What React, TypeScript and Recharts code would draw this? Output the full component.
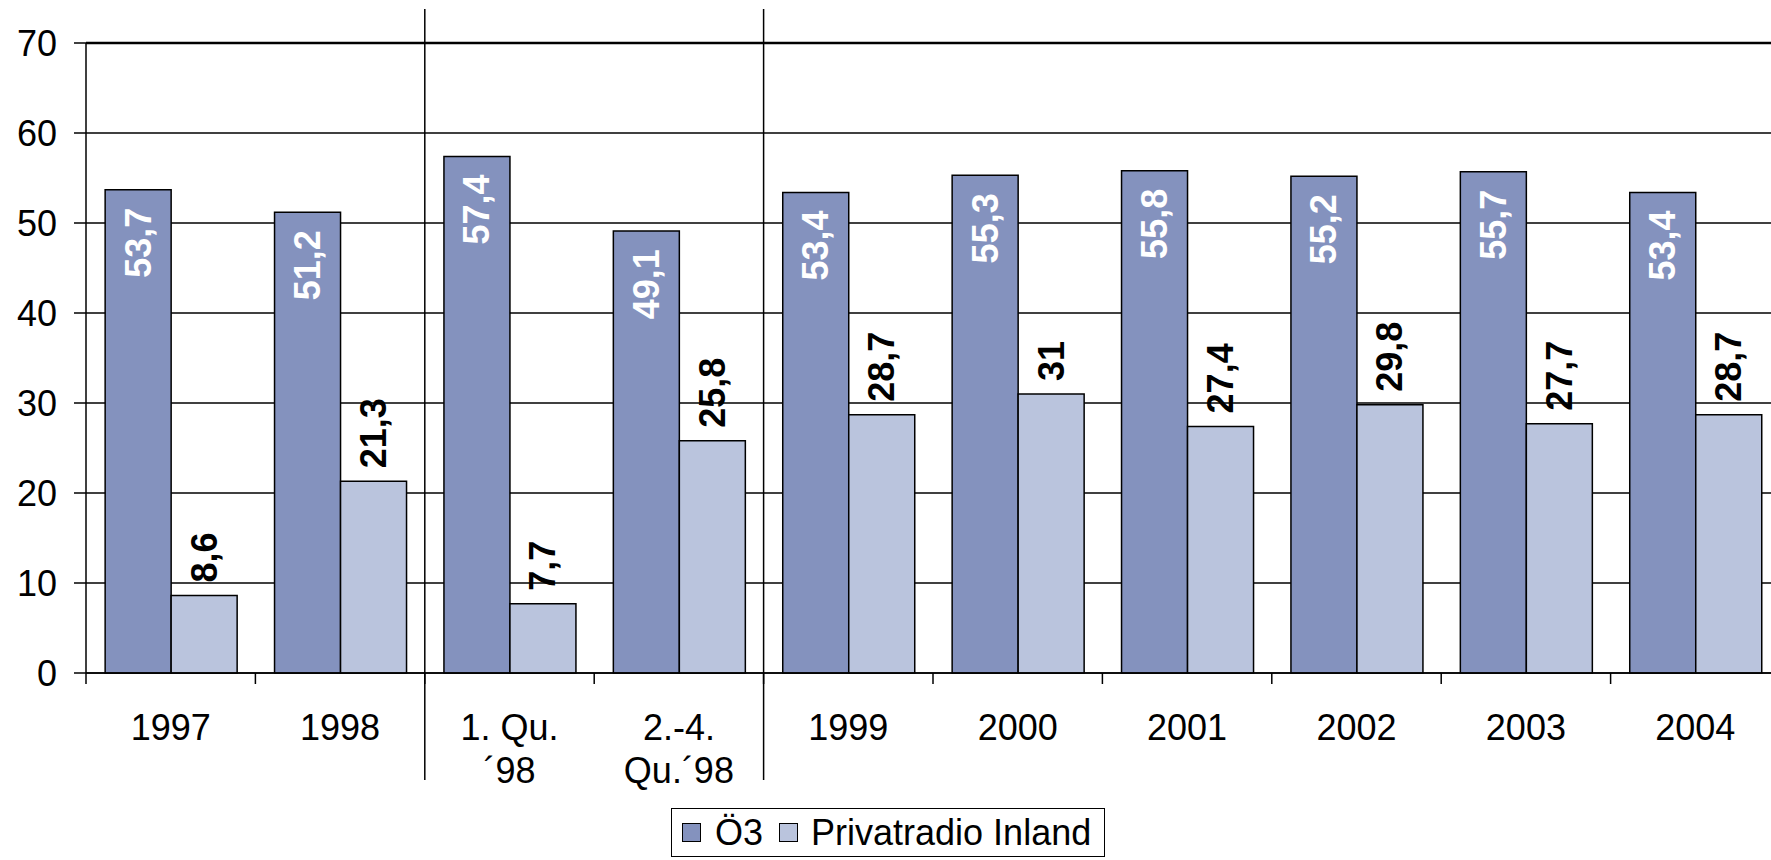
import React from 'react';
import { BarChart, Bar, XAxis, YAxis, CartesianGrid, LabelList, Legend, ReferenceLine } from 'recharts';

const categories = ['1997', '1998', '1. Qu.\n´98', '2.-4.\nQu.´98', '1999', '2000', '2001', '2002', '2003', '2004'];
const o3Values = [53.7, 51.2, 57.4, 49.1, 53.4, 55.3, 55.8, 55.2, 55.7, 53.4];
const privValues = [8.6, 21.3, 7.7, 25.8, 28.7, 31, 27.4, 29.8, 27.7, 28.7];
const seriesNames = ['Ö3', 'Privatradio Inland'];
const yTicks = [0, 10, 20, 30, 40, 50, 60, 70];
// section breaks sit at the start of these categories
const sectionStarts = ['1. Qu.\n´98', '1999'];

const O3_COLOR = '#8492BE';
const PRIV_COLOR = '#BAC4DD';
const FONT = '"Liberation Sans", Arial, sans-serif';

const data = categories.map((name, i) => ({ name, o3: o3Values[i], priv: privValues[i] }));

const fmt = (v: number | string) => String(v).replace('.', ',');

const box = (props: any) => {
  const vb = props.viewBox && props.viewBox.width !== undefined ? props.viewBox : props;
  return { x: Number(vb.x), y: Number(vb.y), width: Number(vb.width), height: Number(vb.height) };
};

const InsideLabel = (props: any) => {
  const { x, y, width } = box(props);
  const cx = x + width / 2;
  const ty = y + 18;
  return (
    <text x={cx} y={ty} transform={`rotate(-90 ${cx} ${ty})`} textAnchor="end" dominantBaseline="central"
      fill="#fff" fontSize={36} fontWeight="bold" fontFamily={FONT}>
      {fmt(props.value)}
    </text>
  );
};

const AboveLabel = (props: any) => {
  const { x, y, width } = box(props);
  const cx = x + width / 2;
  const ty = y - 13;
  return (
    <text x={cx} y={ty} transform={`rotate(-90 ${cx} ${ty})`} textAnchor="start" dominantBaseline="central"
      fill="#000" fontSize={36} fontWeight="bold" fontFamily={FONT}>
      {fmt(props.value)}
    </text>
  );
};

const CategoryTick = ({ x, y, payload }: any) => {
  const lines = String(payload.value).split('\n');
  return (
    <text x={x} y={y} textAnchor="middle" fontSize={36} fontFamily={FONT} fill="#000">
      {lines.map((l, i) => (
        <tspan key={i} x={x} y={y + 67 + i * 43}>{l}</tspan>
      ))}
    </text>
  );
};

const boundaryTick = (p: any) => {
  const bottom = Math.max(p.y1, p.y2);
  return <line x1={p.x1} x2={p.x1} y1={bottom} y2={bottom + 11} stroke="#000" strokeWidth={1.5} />;
};

const separatorLine = (p: any) => {
  const top = Math.min(p.y1, p.y2);
  const bottom = Math.max(p.y1, p.y2);
  return <line x1={p.x1} x2={p.x1} y1={top - 34} y2={bottom + 107} stroke="#000" strokeWidth={1.5} />;
};

const legendColors = [O3_COLOR, PRIV_COLOR];

const renderLegend = () => (
  <div style={{
    boxSizing: 'border-box', width: 434, height: 49, border: '1.5px solid #000', background: '#fff',
    display: 'flex', alignItems: 'center', paddingLeft: 10, fontFamily: FONT, fontSize: 36, color: '#000',
  }}>
    {seriesNames.map((name, i) => (
      <span key={name} style={{ display: 'flex', alignItems: 'center', marginLeft: i ? 16 : 0 }}>
        <span style={{
          display: 'inline-block', boxSizing: 'border-box', width: 19, height: 19,
          border: '1.5px solid #000', background: legendColors[i], marginRight: i ? 13 : 14,
        }} />
        <span style={{ lineHeight: '40px', whiteSpace: 'nowrap' }}>{name}</span>
      </span>
    ))}
  </div>
);

export default function App() {
  return (
    <div style={{ position: 'absolute', left: 0, top: 0, width: 1771, height: 860, overflow: 'hidden', background: '#fff' }}>
      <BarChart width={1780} height={860} data={data} margin={{ top: 43, right: 0, bottom: 3, left: 0 }}
        barCategoryGap="11.3%" barGap={0}>
        <CartesianGrid vertical={false} stroke="#000" strokeWidth={1.5} />
        <XAxis dataKey="name" type="category" interval={0} height={135} tickLine={false} tickSize={0} tickMargin={0}
          axisLine={{ stroke: '#000', strokeWidth: 1.5 }} tick={(p: any) => <CategoryTick {...p} />} />
        <YAxis domain={[0, 70]} ticks={yTicks} width={86} tickSize={12} tickMargin={17} interval={0}
          axisLine={{ stroke: '#000', strokeWidth: 1.5 }} tickLine={{ stroke: '#000', strokeWidth: 1.5 }}
          tick={{ fill: '#000', fontSize: 36, fontFamily: FONT }} />
        <Legend verticalAlign="bottom" align="center" content={renderLegend}
          wrapperStyle={{ left: 671, bottom: 3, width: 434, height: 49 }} />
        <ReferenceLine y={70} stroke="#000" strokeWidth={2.5} />
        <Bar dataKey="o3" name={seriesNames[0]} fill={O3_COLOR} stroke="#000" strokeWidth={1.5} isAnimationActive={false}>
          <LabelList dataKey="o3" content={(p: any) => <InsideLabel {...p} />} />
        </Bar>
        <Bar dataKey="priv" name={seriesNames[1]} fill={PRIV_COLOR} stroke="#000" strokeWidth={1.5} isAnimationActive={false}>
          <LabelList dataKey="priv" content={(p: any) => <AboveLabel {...p} />} />
        </Bar>
        {categories.map((c) => (
          <ReferenceLine key={`t-${c}`} x={c} position="start" stroke="#000" shape={boundaryTick} />
        ))}
        {sectionStarts.map((c) => (
          <ReferenceLine key={`s-${c}`} x={c} position="start" stroke="#000" shape={separatorLine} />
        ))}
      </BarChart>
    </div>
  );
}
